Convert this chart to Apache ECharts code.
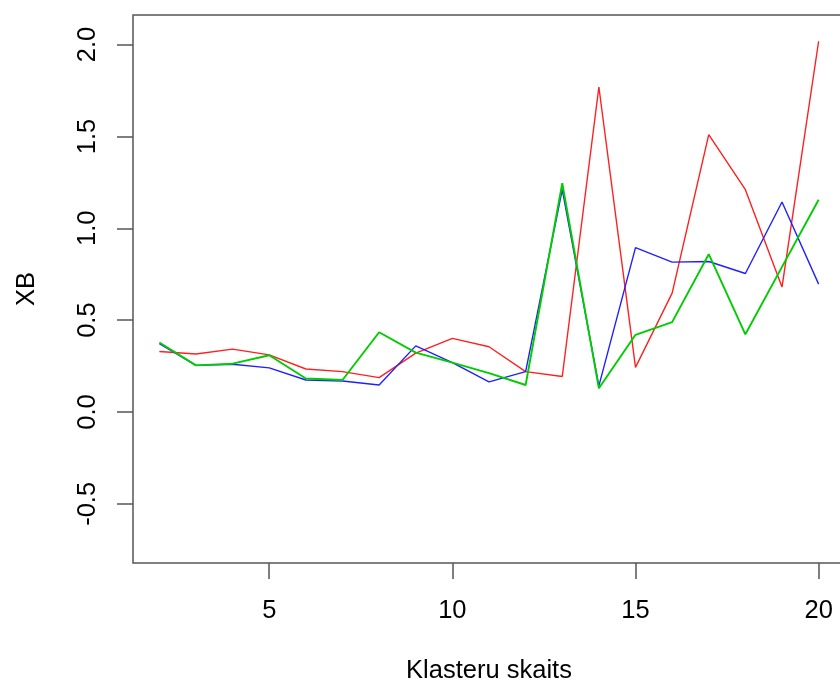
<!DOCTYPE html>
<html>
<head>
<meta charset="utf-8">
<script src="https://cdn.jsdelivr.net/npm/echarts@6/dist/echarts.min.js"></script>
<style>html,body{margin:0;padding:0;background:#fff;}#c{width:840px;height:684px;}</style>
</head>
<body>
<div id="c"></div>
<script>
var clusters = [2,3,4,5,6,7,8,9,10,11,12,13,14,15,16,17,18,19,20];
var redValues   = [0.329,0.316,0.342,0.311,0.234,0.220,0.187,0.320,0.401,0.355,0.220,0.193,1.769,0.243,0.647,1.510,1.210,0.680,2.018];
var blueValues  = [0.372,0.254,0.260,0.240,0.174,0.169,0.147,0.360,0.269,0.164,0.220,1.210,0.142,0.895,0.816,0.819,0.754,1.143,0.696];
var greenValues = [0.378,0.254,0.263,0.309,0.182,0.174,0.434,0.323,0.269,0.212,0.147,1.245,0.129,0.420,0.489,0.859,0.423,0.790,1.155];
var xTicks = [5,10,15,20];
var yTicks = [-0.5,0,0.5,1,1.5,2];
var yTickLabels = ['-0.5','0.0','0.5','1.0','1.5','2.0'];

function pairs(vals){ return clusters.map(function(c,i){ return [c, vals[i]]; }); }

var chart = echarts.init(document.getElementById('c'), null, {renderer:'canvas'});
var font = 'Liberation Sans, Arial, sans-serif';
var fs = 25.5;
chart.setOption({
  animation: false,
  backgroundColor: '#fff',
  grid: {left:133, top:15, width:712, height:548, show:true, borderColor:'#555', borderWidth:1.5, backgroundColor:'transparent', containLabel:false, outerBoundsMode:'none'},
  xAxis: {
    type:'value', min:1.28, max:20.72,
    name:'Klasteru skaits', nameLocation:'middle', nameGap:95,
    nameTextStyle:{fontFamily:font, fontSize:fs, color:'#000'},
    axisLine:{show:false, onZero:false},
    splitLine:{show:false},
    axisTick:{show:true, inside:false, length:16, lineStyle:{color:'#555', width:1.5}, customValues:xTicks},
    axisLabel:{show:true, margin:35, fontFamily:font, fontSize:fs, color:'#000', customValues:xTicks, formatter:function(v){return String(v);}}
  },
  yAxis: {
    type:'value', min:-0.822, max:2.161,
    name:'XB', nameLocation:'middle', nameGap:93, nameRotate:90,
    nameTextStyle:{fontFamily:font, fontSize:fs, color:'#000'},
    axisLine:{show:false, onZero:false},
    splitLine:{show:false},
    axisTick:{show:true, inside:false, length:16, lineStyle:{color:'#555', width:1.5}, customValues:yTicks},
    axisLabel:{show:true, rotate:90, margin:32, fontFamily:font, fontSize:fs, color:'#000', customValues:yTicks,
      formatter:function(v){ var i = yTicks.indexOf(Math.round(v*10)/10); return i>=0 ? yTickLabels[i] : ''; }}
  },
  series: [
    {type:'line', data:pairs(redValues), symbol:'none', lineStyle:{color:'#FF2020', width:1.4}, clip:true},
    {type:'line', data:pairs(blueValues), symbol:'none', lineStyle:{color:'#2020FF', width:1.4}, clip:true},
    {type:'line', data:pairs(greenValues), symbol:'none', lineStyle:{color:'#00CD00', width:1.9}, clip:true}
  ]
});
</script>
</body>
</html>
